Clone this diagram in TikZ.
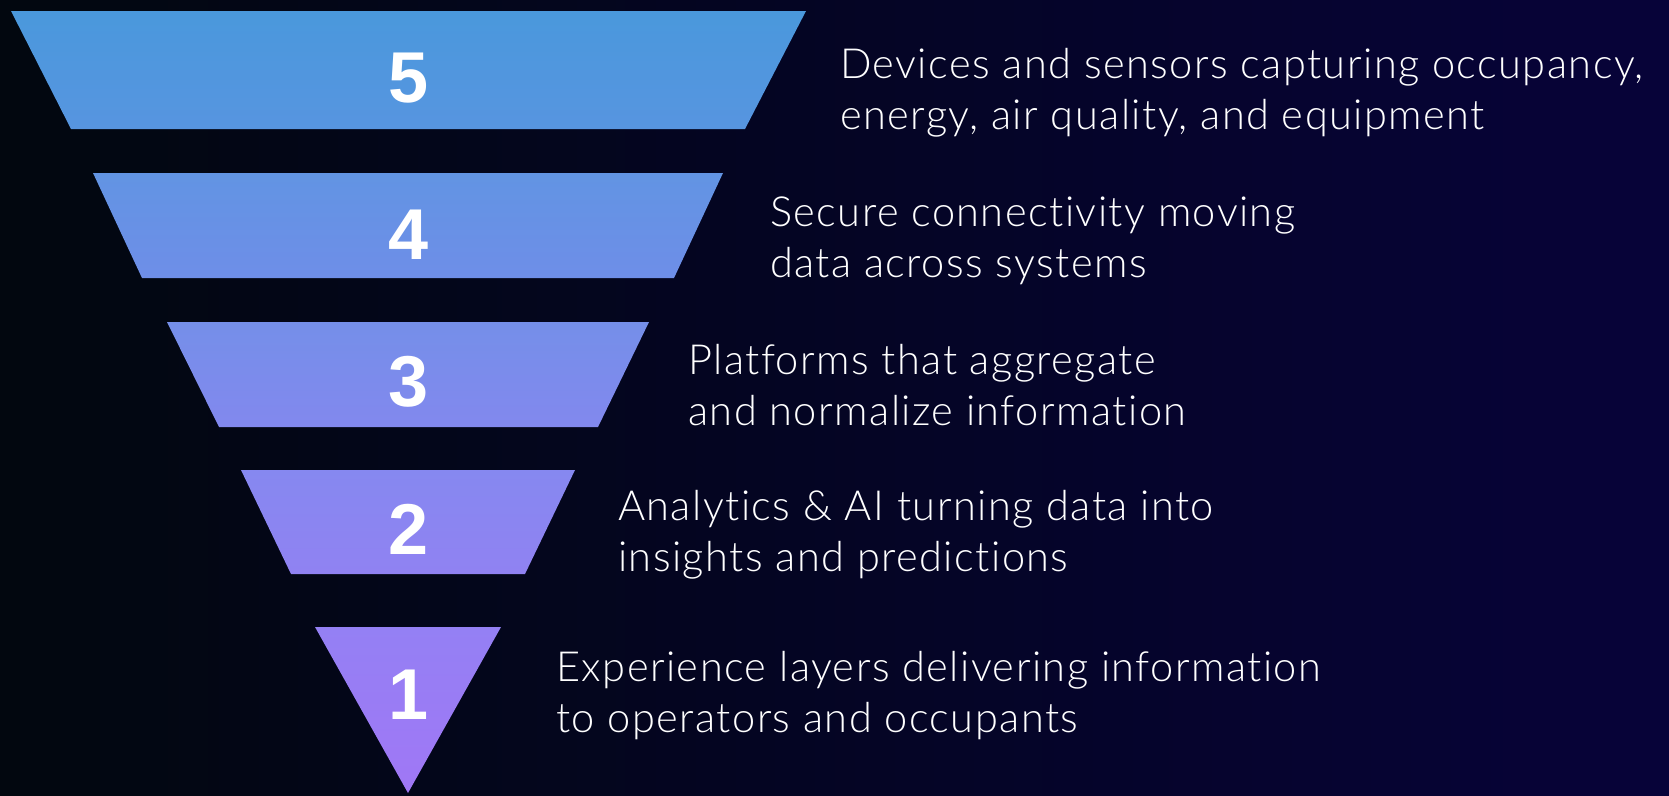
\documentclass[tikz,border=0pt]{standalone}
\usepackage{fontspec}
\setmainfont{Lato}[UprightFont=* Light, Ligatures=NoCommon, LetterSpace=3.5]
\newfontfamily\numfont{Liberation Sans}
\begin{document}
\begin{tikzpicture}[x=1pt,y=-1pt,
  layernum/.style={text=white,font=\numfont\bfseries\fontsize{72}{72}\selectfont,inner sep=0pt,anchor=base},
  caption/.style={text=white,font=\fontsize{41.5}{50.5}\selectfont,align=left,inner sep=0pt,anchor=base west}]
\definecolor{bgL}{HTML}{02070F}
\definecolor{bgM}{HTML}{040A1E}
\definecolor{bgR}{HTML}{070339}
\definecolor{f5t}{HTML}{4A98DC}
\definecolor{f5b}{HTML}{5795E0}
\definecolor{f4t}{HTML}{6294E3}
\definecolor{f4b}{HTML}{6E8EE8}
\definecolor{f3t}{HTML}{758FE9}
\definecolor{f3b}{HTML}{8288EE}
\definecolor{f2t}{HTML}{8688F0}
\definecolor{f2b}{HTML}{9082F2}
\definecolor{f1t}{HTML}{9480F4}
\definecolor{f1b}{HTML}{A077F5}

% background
\useasboundingbox (0,0) rectangle (1669,795);
\shade[left color=bgL, middle color=bgM, right color=bgR] (0,0) rectangle (1669,795);

% funnel layers
\shade[top color=f5t, bottom color=f5b] (11,11) -- (806,11) -- (745,129) -- (71,129) -- cycle;
\shade[top color=f4t, bottom color=f4b] (93,173) -- (723,173) -- (674,278) -- (142,278) -- cycle;
\shade[top color=f3t, bottom color=f3b] (167,322) -- (649,322) -- (598,427) -- (219,427) -- cycle;
\shade[top color=f2t, bottom color=f2b] (241,470) -- (575,470) -- (525,574) -- (291,574) -- cycle;
\shade[top color=f1t, bottom color=f1b] (315,627) -- (501,627) -- (408,793) -- cycle;

% layer numbers
\node[layernum] (n5) at (408.5,102) {5};
\node[layernum] (n4) at (408.5,259) {4};
\node[layernum] (n3) at (408.5,406) {3};
\node[layernum] (n2) at (408.5,554) {2};
\node[layernum] (n1) at (408.5,719) {1};

% descriptions (anchored on the baseline of their second line)
\node[caption] (t5) at (840,129) {Devices and sensors capturing occupancy,\\energy, air quality, and equipment};
\node[caption] (t4) at (770,277) {Secure connectivity moving\\data across systems};
\node[caption] (t3) at (688,425) {Platforms that aggregate\\and normalize information};
\node[caption] (t2) at (618,571) {Analytics \& AI turning data into\\insights and predictions};
\node[caption] (t1) at (556,732) {Experience layers delivering information\\to operators and occupants};
\end{tikzpicture}
\end{document}
